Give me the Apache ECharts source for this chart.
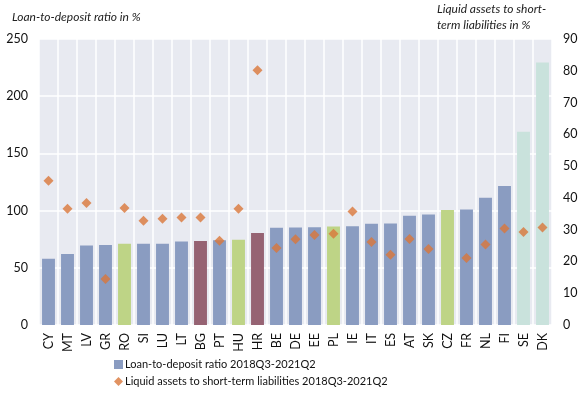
<!DOCTYPE html>
<html>
<head>
<meta charset="utf-8">
<script src="https://cdn.jsdelivr.net/npm/echarts@6/dist/echarts.min.js"></script>
<style>html,body{margin:0;padding:0;background:#fff}#c{width:583px;height:395px}</style>
</head>
<body>
<div id="c"></div>
<script>
var categories = ['CY','MT','LV','GR','RO','SI','LU','LT','BG','PT','HU','HR','BE','DE','EE','PL','IE','IT','ES','AT','SK','CZ','FR','NL','FI','SE','DK'];
var loanToDeposit = [58,62,69.5,70,71,71,71,73,73.5,74,74.5,80.5,85,85.3,85.5,86,86.3,88.5,88.8,95.5,96.7,100.5,101,111.3,121.5,169,229.5];
var liquidAssets = [45.4,36.6,38.4,14.5,36.8,32.8,33.4,33.8,33.8,26.5,36.6,80.2,24.2,27,28.3,28.7,35.7,26.1,22.1,27.1,23.9,null,21.1,25.3,30.4,29.3,30.7];
var barGroup = ['b','b','b','b','g','b','b','b','m','b','g','m','b','b','b','g','b','b','b','b','b','g','b','b','b','t','t'];
var leftTicks = [0,50,100,150,200,250];
var rightTicks = [0,10,20,30,40,50,60,70,80,90];
var seriesNames = ['Loan-to-deposit ratio 2018Q3-2021Q2','Liquid assets to short-term liabilities 2018Q3-2021Q2'];

var groupColors = {b:'#8a9cc1', g:'#bed486', m:'#966373', t:'#c9e2dc'};
var font = 'Lato, "Open Sans", sans-serif';
var legendText = {fontSize:11, color:'#111', fontFamily:font, padding:[0,0,0,-3]};
var chart = echarts.init(document.getElementById('c'), null, {renderer:'canvas'});
chart.setOption({
  animation:false,
  textStyle:{fontFamily:font},
  graphic:[
    {type:'text', left:12, top:11, style:{text:'Loan-to-deposit ratio in %', font:'italic 12px '+font, fill:'#222'}},
    {type:'text', left:437, top:1, style:{text:'Liquid assets to short-\nterm liabilities in %', font:'italic 12px '+font, fill:'#222', lineHeight:16}}
  ],
  grid:{left:39, right:31, top:39, bottom:70, show:true, backgroundColor:'#e8eaf1', borderWidth:0},
  legend:[
    {left:114, top:359, padding:0, itemWidth:9, itemHeight:9, textStyle:legendText,
     data:[{name:seriesNames[0], icon:'rect'}]},
    {left:114, top:376, padding:0, itemWidth:9, itemHeight:9, textStyle:legendText,
     data:[{name:seriesNames[1], icon:'diamond'}]}
  ],
  xAxis:{
    type:'category', data:categories, boundaryGap:true,
    axisLine:{show:false}, axisTick:{show:false},
    axisLabel:{rotate:90, fontSize:12.5, color:'#111', margin:8, interval:0},
    splitLine:{show:true, interval:0, lineStyle:{color:'#ffffff', width:1.5}}
  },
  yAxis:[
    {type:'value', min:0, max:250, interval:50,
     axisLabel:{fontSize:12.5, color:'#111', margin:11}, axisLine:{show:false}, axisTick:{show:false},
     splitLine:{lineStyle:{color:'#ffffff', width:1.5}}},
    {type:'value', min:0, max:90, interval:10, position:'right',
     axisLabel:{fontSize:12.5, color:'#111', margin:11}, axisLine:{show:false}, axisTick:{show:false},
     splitLine:{show:false}}
  ],
  series:[
    {name:seriesNames[0], type:'bar', yAxisIndex:0, barWidth:'68%',
     itemStyle:{color:groupColors.b},
     data:loanToDeposit.map(function(v,i){return {value:v, itemStyle:{color:groupColors[barGroup[i]]}};})},
    {name:seriesNames[1], type:'scatter', yAxisIndex:1,
     symbol:'diamond', symbolSize:10, itemStyle:{color:'#d9773a'}, data:liquidAssets}
  ]
});
</script>
</body>
</html>
